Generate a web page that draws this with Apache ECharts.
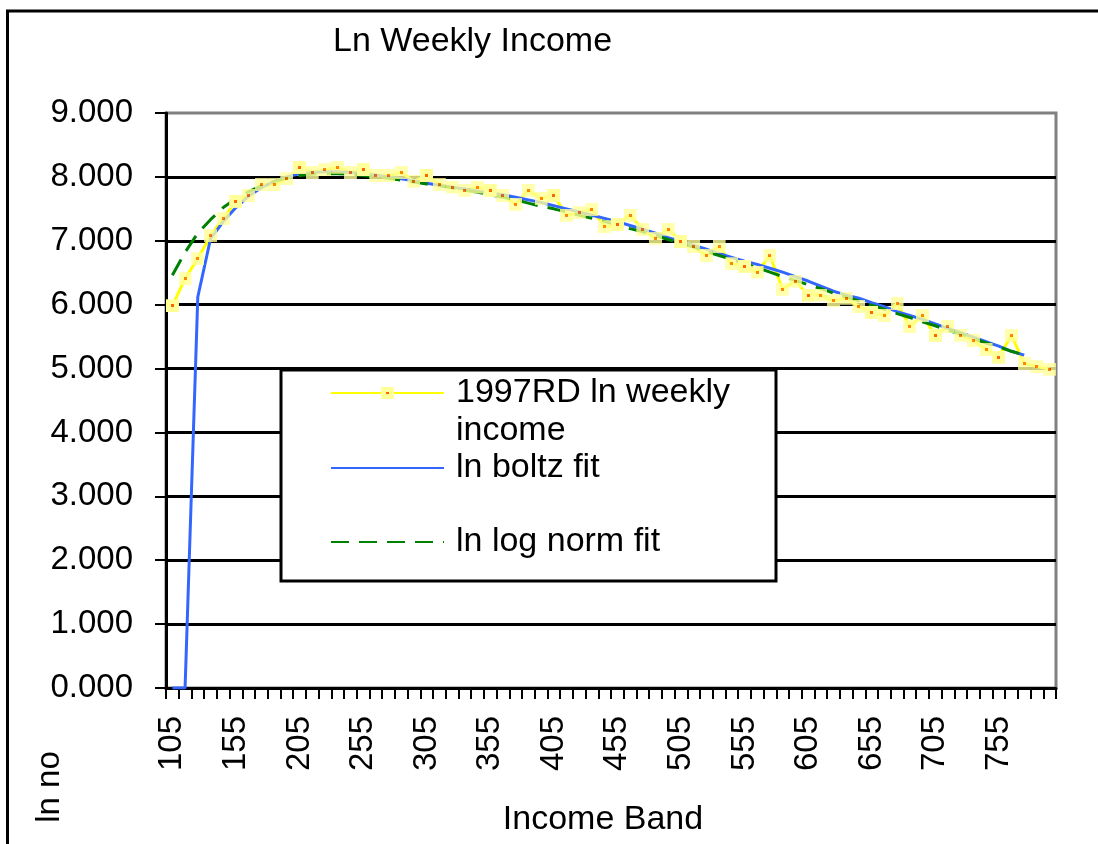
<!DOCTYPE html>
<html><head><meta charset="utf-8">
<script src="https://cdn.jsdelivr.net/npm/echarts@6/dist/echarts.min.js"></script>
<style>html,body{margin:0;padding:0;background:#fff}#c{width:1098px;height:844px}</style>
</head><body><div id="c"></div>
<script>
const categories = ['105','115','125','135','145','155','165','175','185','195',
  '205','215','225','235','245','255','265','275','285','295',
  '305','315','325','335','345','355','365','375','385','395',
  '405','415','425','435','445','455','465','475','485','495',
  '505','515','525','535','545','555','565','575','585','595',
  '605','615','625','635','645','655','665','675','685','695',
  '705','715','725','735','745','755','765','775','785','795'];

const rdLnWeekly = [5.98,6.41,6.72,7.08,7.35,7.62,7.71,7.88,7.88,7.97,
  8.15,8.07,8.11,8.15,8.07,8.11,8.02,8.02,8.07,7.93,
  8.02,7.88,7.84,7.79,7.84,7.79,7.71,7.57,7.79,7.66,
  7.71,7.40,7.44,7.49,7.22,7.26,7.40,7.18,7.04,7.18,
  6.99,6.91,6.77,6.91,6.64,6.60,6.51,6.77,6.24,6.37,
  6.15,6.15,6.06,6.10,5.97,5.88,5.83,6.02,5.66,5.83,
  5.52,5.66,5.52,5.44,5.30,5.18,5.52,5.08,5.03,4.99];

const lnBoltzFit = [0,0,6.12,7.03,7.30,7.52,7.70,7.83,7.93,8.00,
  8.05,8.07,8.08,8.08,8.07,8.05,8.03,8.00,7.97,7.94,
  7.90,7.87,7.84,7.81,7.78,7.75,7.72,7.68,7.64,7.60,
  7.55,7.50,7.45,7.40,7.35,7.30,7.24,7.18,7.12,7.05,
  6.99,6.93,6.87,6.80,6.74,6.68,6.63,6.57,6.51,6.44,
  6.37,6.29,6.21,6.15,6.10,6.03,5.97,5.89,5.83,5.77,
  5.70,5.63,5.56,5.49,5.42,5.35,5.27,5.21,null,null];

const lnLogNormFit = [6.46,6.82,7.12,7.33,7.52,7.66,7.77,7.86,7.93,7.98,
  8.02,8.04,8.05,8.05,8.04,8.02,8.00,7.98,7.95,7.92,
  7.89,7.86,7.83,7.79,7.76,7.72,7.68,7.64,7.59,7.54,
  7.50,7.45,7.40,7.35,7.30,7.25,7.19,7.14,7.08,7.02,
  6.96,6.90,6.83,6.77,6.71,6.64,6.58,6.51,6.44,6.38,
  6.31,6.25,6.18,6.12,6.06,5.99,5.93,5.86,5.80,5.73,
  5.67,5.60,5.54,5.47,5.40,5.34,5.27,5.21,null,null];

const seriesNames = ['1997RD ln weekly income', 'ln boltz fit', 'ln log norm fit'];
const titleText = 'Ln Weekly Income';
const xName = 'Income Band';
const yName = 'ln no';

const FONT = '"Liberation Sans", Arial, sans-serif';
const markerSvg = '<svg xmlns="http://www.w3.org/2000/svg" width="13" height="13" viewBox="0 0 13 13" shape-rendering="crispEdges"><rect width="13" height="13" fill="#FFFF99"/><rect x="5" y="5" width="3" height="3" fill="#FF6600"/></svg>';
const markerSymbol = 'image://data:image/svg+xml;charset=utf-8,' + encodeURIComponent(markerSvg);

const chart = echarts.init(document.getElementById('c'), null, {renderer: 'canvas'});
const legendText = {fontSize: 34, color: '#000', fontFamily: FONT, lineHeight: 38, padding: [0, 0, 0, 7]};
const legendCommon = {orient: 'vertical', left: 330, padding: 0, itemWidth: 113, itemHeight: 16,
  textStyle: legendText, selectedMode: false};

const option = {
  animation: false,
  textStyle: {fontFamily: FONT},
  title: {text: titleText, left: 333, top: 25, padding: 0,
    textStyle: {fontSize: 34, fontWeight: 'normal', color: '#000', fontFamily: FONT}},
  grid: {left: 166, right: 42, top: 113, bottom: 156, show: true,
    borderColor: '#808080', borderWidth: 3, backgroundColor: 'transparent'},
  xAxis: {
    type: 'category', data: categories, boundaryGap: true,
    axisLine: {lineStyle: {color: '#000', width: 3}},
    axisTick: {show: true, interval: 0, length: 11, lineStyle: {color: '#000', width: 2}},
    axisLabel: {interval: 4, rotate: 90, margin: 28, fontSize: 33, color: '#000', fontFamily: FONT},
    splitLine: {show: false},
    name: xName, nameLocation: 'middle', nameGap: 115,
    nameTextStyle: {fontSize: 34, color: '#000', fontFamily: FONT, padding: [0, 16, 0, 0]}
  },
  yAxis: {
    type: 'value', min: 0, max: 9, interval: 1,
    axisLine: {show: true, lineStyle: {color: '#000', width: 3}},
    axisTick: {show: true, length: 11, lineStyle: {color: '#000', width: 2}},
    axisLabel: {margin: 33, fontSize: 33, color: '#000', fontFamily: FONT,
      formatter: v => v.toFixed(3)},
    splitLine: {show: true, showMaxLine: false, lineStyle: {color: '#000', width: 3}}
  },
  legend: [
    Object.assign({}, legendCommon, {top: 336, data: [seriesNames[0]],
      formatter: () => ' \n1997RD ln weekly\nincome'}),
    Object.assign({}, legendCommon, {top: 449, data: [seriesNames[1]], itemStyle: {opacity: 0}}),
    Object.assign({}, legendCommon, {top: 523, data: [seriesNames[2]], itemStyle: {opacity: 0}})
  ],
  graphic: [
    {type: 'rect', silent: true, z: 0, shape: {x: 7.5, y: 11, width: 1300, height: 1000},
      style: {fill: 'none', stroke: '#000', lineWidth: 3}},
    {type: 'rect', silent: true, z: 3, shape: {x: 281, y: 370, width: 495, height: 211},
      style: {fill: '#fff', stroke: '#000', lineWidth: 3}},
    {type: 'text', silent: true, z: 3, x: 50, y: 787, rotation: Math.PI / 2,
      style: {text: yName, font: '33px "Liberation Sans", Arial, sans-serif', fill: '#000',
        align: 'center', verticalAlign: 'middle'}}
  ],
  series: [
    {name: seriesNames[0], type: 'line', data: rdLnWeekly, symbol: markerSymbol, symbolSize: 13,
      showSymbol: true, lineStyle: {color: '#FFFF00', width: 3}, itemStyle: {color: '#FFFF00'}, z: 2},
    {name: seriesNames[1], type: 'line', data: lnBoltzFit, symbol: 'none',
      lineStyle: {color: '#3366FF', width: 3}, itemStyle: {color: '#3366FF'}, z: 2},
    {name: seriesNames[2], type: 'line', data: lnLogNormFit, symbol: 'none',
      lineStyle: {color: '#008000', width: 3, type: [18, 10]}, itemStyle: {color: '#008000'}, z: 2},
    {name: seriesNames[0], type: 'scatter', data: rdLnWeekly, symbol: markerSymbol, symbolSize: 13,
      z: 3, silent: true}
  ]
};
chart.setOption(option);
</script>
</body></html>
